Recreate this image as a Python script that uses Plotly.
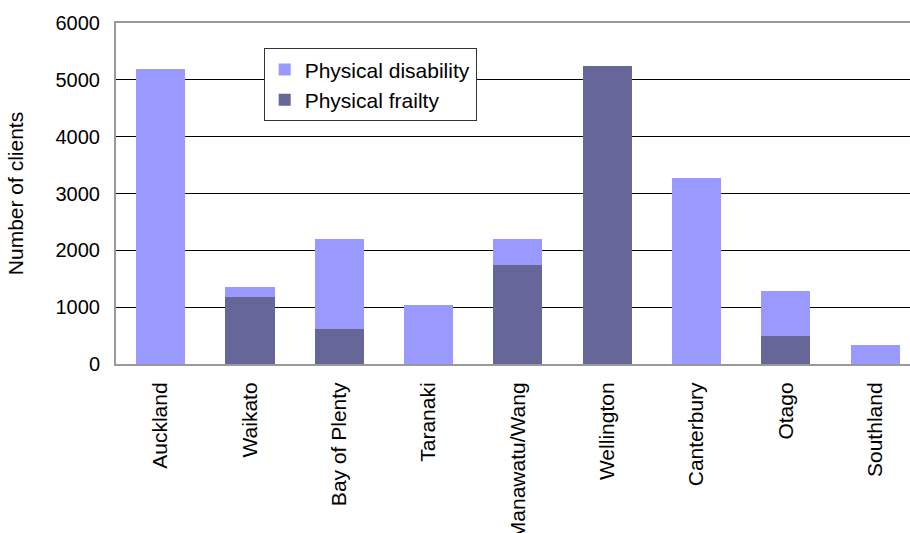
import plotly.graph_objects as go

regions = ["Auckland", "Waikato", "Bay of Plenty", "Taranaki", "Manawatu/Wang",
           "Wellington", "Canterbury", "Otago", "Southland"]
frailty = [0, 1180, 616, 0, 1743, 5246, 0, 493, 0]
disability = [5194, 176, 1585, 1039, 457, 0, 3275, 792, 334]
y_ticks = [0, 1000, 2000, 3000, 4000, 5000, 6000]

font = "Liberation Sans, Arial, sans-serif"

fig = go.Figure()
fig.add_trace(go.Bar(x=regions, y=frailty, name="Physical frailty",
                     marker=dict(color="#666699", line=dict(width=0)),
                     legendgroup="b", legendrank=2))
fig.add_trace(go.Bar(x=regions, y=disability, name="Physical disability",
                     marker=dict(color="#9999FF", line=dict(width=0)),
                     legendgroup="a", legendrank=1))

fig.update_layout(
    width=910, height=533,
    barmode="stack", bargap=0.45,
    paper_bgcolor="white", plot_bgcolor="white",
    margin=dict(l=116, r=0, t=23, b=169),
    font=dict(family=font, size=20, color="black"),
    showlegend=True,
    legend=dict(x=0.186, y=0.926, xanchor="left", yanchor="top",
                bgcolor="white", bordercolor="#333333", borderwidth=1,
                traceorder="grouped", tracegroupgap=0,
                font=dict(size=21), itemwidth=30),
    xaxis=dict(range=[-0.5, 8.39], showline=True, linecolor="#999999", linewidth=2,
               mirror=True, tickangle=-90, ticks="outside", ticklen=8,
               tickcolor="rgba(0,0,0,0)", tickfont=dict(size=21),
               showgrid=False, fixedrange=True, automargin=False),
    yaxis=dict(range=[0, 6000], tickvals=y_ticks, showline=True, linecolor="#999999",
               linewidth=2, showgrid=True, gridcolor="black", gridwidth=1,
               ticks="outside", ticklen=10, tickcolor="rgba(0,0,0,0)",
               tickfont=dict(size=20), zeroline=False, automargin=False,
               title=dict(text="Number of clients", font=dict(size=21), standoff=26)),
)

fig.write_html("out.html")
